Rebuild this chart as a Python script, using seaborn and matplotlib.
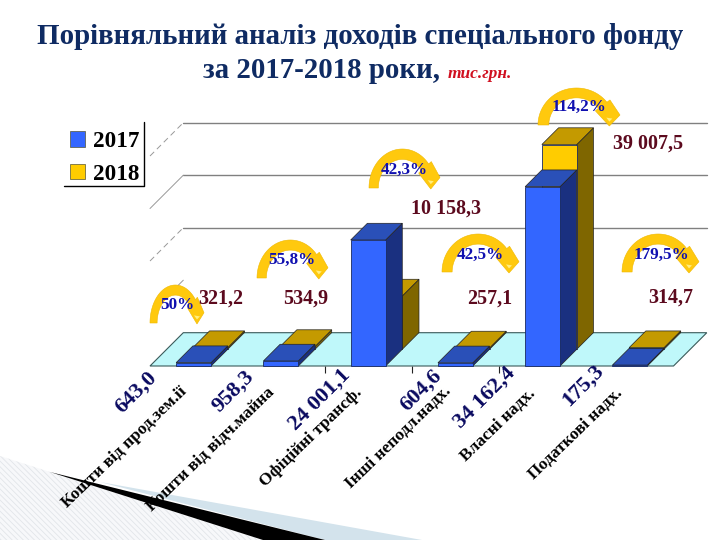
import numpy as np
import pandas as pd
import matplotlib
matplotlib.use('Agg')
import matplotlib.pyplot as plt
from matplotlib.patches import Patch, Polygon
import seaborn as sns

categories = ['Кошти від прод.зем.ії', 'Кошти від відч.майна', 'Офіційні трансф.',
              'Інші неподл.надх.', 'Власні надх.', 'Податкові надх.']
values_2017 = [643.0, 958.3, 24001.1, 604.6, 34162.4, 175.3]
values_2018 = [321.2, 534.9, 10158.3, 257.1, 39007.5, 314.7]
labels_2017 = ['643,0', '958,3', '24 001,1', '604,6', '34 162,4', '175,3']
labels_2018 = ['321,2', '534,9', '10 158,3', '257,1', '39 007,5', '314,7']
growth = ['50%', '55,8%', '42,3%', '42,5%', '114,2%', '179,5%']
grid_values = [20000, 30000, 40000]

SERIF = 'Liberation Serif'
FRONT = {'2017': '#3366FF', '2018': '#FFCC00'}
TOP = {'2017': '#2A50B8', '2018': '#C49A00'}
SIDE = {'2017': '#1A3080', '2018': '#7F6600'}

sns.set_theme(style='white')
plt.rcParams['font.family'] = [SERIF, 'DejaVu Serif']
plt.rcParams['hatch.linewidth'] = 0.6

fig = plt.figure(figsize=(7.2, 5.4), dpi=100)
fig.patch.set_facecolor('white')

# chart axes: front plane of the 3d box
ax = fig.add_axes([150 / 720, (540 - 366) / 540, 523.5 / 720, 210 / 540])
ax.patch.set_visible(False)

df = pd.DataFrame({
    'category': categories * 2,
    'value': values_2017 + values_2018,
    'year': ['2017'] * 6 + ['2018'] * 6,
})
sns.barplot(data=df, x='category', y='value', hue='year', palette=FRONT, dodge=False,
            width=0.4, saturation=1, legend=False, edgecolor='#1a2a60', linewidth=0.6, ax=ax)
ax.set_xlim(-0.5, 5.5)
ax.set_ylim(0, 40000)
ax.set_xlabel('')
ax.set_ylabel('')
ax.set_yticks([])
ax.set_xticks([])
ax.set_xticks([1.5, 2.5, 3.5], minor=True)
ax.tick_params(axis='x', which='minor', bottom=True, length=5, width=0.8, color='#222222')
sns.despine(ax=ax, left=True, bottom=True)

# depth of the box in data units (33 px to the back, 16.7 px per bar)
px_x = 6 / 523.5
px_y = 40000 / 210
box_dx, box_dy = 33.3 * px_x, 33.3 * px_y
bar_dx, bar_dy = 16.7 * px_x, 16.7 * px_y

floor = [(-0.5, 0), (5.5, 0), (5.5 + box_dx, box_dy), (-0.5 + box_dx, box_dy)]
ax.add_patch(Polygon(floor, closed=True, facecolor='#BFF8FA', edgecolor='#3a5a5a',
                     linewidth=0.8, zorder=1, clip_on=False))
for v in grid_values:
    ax.plot([-0.5 + box_dx, 5.5 + box_dx], [v + box_dy, v + box_dy], color='#808080',
            linewidth=1, zorder=1, clip_on=False)
    ax.plot([-0.5, -0.5 + box_dx], [v, v + box_dy], color='#999999', linewidth=0.7,
            linestyle='-' if v == 30000 else (0, (6, 4)), zorder=1, clip_on=False)
ax.plot([-0.5 + 0.7 * box_dx, -0.5 + box_dx], [10000 + 0.7 * box_dy, 10000 + box_dy],
        color='#999999', linewidth=0.7, zorder=1, clip_on=False)


def draw_depth(bar, year, z):
    x0, w = bar.get_x(), bar.get_width()
    y0, h = bar.get_y(), bar.get_height()
    x1, y1 = x0 + w, y0 + h
    side = [(x1, y0), (x1 + bar_dx, y0 + bar_dy), (x1 + bar_dx, y1 + bar_dy), (x1, y1)]
    top = [(x0, y1), (x1, y1), (x1 + bar_dx, y1 + bar_dy), (x0 + bar_dx, y1 + bar_dy)]
    ax.add_patch(Polygon(side, closed=True, facecolor=SIDE[year], edgecolor='#222222',
                         linewidth=0.5, zorder=z, clip_on=False))
    ax.add_patch(Polygon(top, closed=True, facecolor=TOP[year], edgecolor='#222222',
                         linewidth=0.5, zorder=z, clip_on=False))
    bar.set_zorder(z + 0.1)
    bar.set_clip_on(False)


# first container is 2017 in front, second is 2018 pushed half a depth back
for bar in ax.containers[0]:
    draw_depth(bar, '2017', 3)
for bar in ax.containers[1]:
    bar.set_x(bar.get_x() + bar_dx)
    bar.set_y(bar.get_y() + bar_dy)
    draw_depth(bar, '2018', 2)

# overlay in pixel coordinates for the slide furniture
over = fig.add_axes([0, 0, 1, 1], zorder=5)
over.set_xlim(0, 720)
over.set_ylim(540, 0)
over.axis('off')

# corner decoration
over.add_patch(Polygon([(0, 456), (50, 472), (263, 540), (0, 540)], closed=True, facecolor='#F7F8FA',
                       edgecolor='#E2E5E9', hatch='\\\\\\\\\\\\', linewidth=0))
over.add_patch(Polygon([(100, 482), (422, 540), (325, 540)], closed=True, facecolor='#D3E3EC', linewidth=0))
over.add_patch(Polygon([(50, 472), (325, 540), (263, 540)], closed=True, facecolor='black', linewidth=0))

title_color = '#0F2B63'
over.text(360, 44, 'Порівняльний аналіз доходів спеціального фонду', ha='center', va='baseline',
          fontsize=20.8, fontweight='bold', color=title_color)
over.text(203, 78, 'за 2017-2018 роки,', ha='left', va='baseline', fontsize=20.8,
          fontweight='bold', color=title_color)
over.text(448, 78, 'тис.грн.', ha='left', va='baseline', fontsize=12.5, fontweight='bold',
          fontstyle='italic', color='#D01020')

# legend with only right and bottom rules
over.plot([144.3, 144.3, 64], [122, 186, 186], color='black', linewidth=1)
handles = [Patch(facecolor=FRONT[y], edgecolor='#555533', linewidth=0.5) for y in FRONT]
over.legend(handles, list(FRONT), loc='upper left', bbox_to_anchor=(70 / 720, 1 - 131 / 540),
            frameon=False, prop={'family': SERIF, 'weight': 'bold', 'size': 16.7},
            labelcolor='black', handlelength=0.65, handleheight=0.65, handletextpad=0.36,
            labelspacing=0.5, borderpad=0, borderaxespad=0)

# rotated labels under the floor
x_2017 = [136, 233, 320, 421, 485, 583]
y_2017 = [392, 391, 400, 390, 398, 385]
x_cat = [124, 211, 311, 398, 498, 576]
y_cat = [447, 450, 437, 437, 425, 434]
for i in range(6):
    over.text(x_2017[i], y_2017[i], labels_2017[i], rotation=45, ha='center', va='center',
              rotation_mode='anchor', fontsize=16, fontweight='bold', color='#0A0A60')
    over.text(x_cat[i], y_cat[i], categories[i], rotation=44, ha='center', va='center',
              rotation_mode='anchor', fontsize=12.5, fontweight='bold', color='black')

# values for 2018
x_2018 = [221, 306, 446, 490, 648, 671]
y_2018 = [299, 299, 209, 299, 144, 298]
for x, y, s in zip(x_2018, y_2018, labels_2018):
    over.text(x, y, s, ha='center', va='center', fontsize=14.4, fontweight='bold', color='#5C0A1E')


def curved_arrow(left, right, top, bottom):
    # yellow arc going clockwise from the left foot, arrow head at the right
    cx = left + (right - left) * 0.47
    a = cx - left
    b = bottom - top
    band = 0.28
    t = np.radians(np.linspace(180, 38, 50))
    outer = np.c_[cx + a * np.cos(t), bottom - b * np.sin(t)]
    inner = np.c_[cx + a * (1 - band) * np.cos(t), bottom - b * (1 - band * 0.95) * np.sin(t)]
    end = t[-1]
    wing_out = (cx + a * 1.1 * np.cos(end), bottom - b * 1.1 * np.sin(end))
    wing_in = (cx + a * 0.62 * np.cos(end), bottom - b * 0.62 * np.sin(end))
    tip = (right - (right - left) * 0.13, bottom + 1)
    pts = list(map(tuple, outer)) + [wing_out, (right, bottom - b * 0.27), tip, wing_in] + list(map(tuple, inner[::-1]))
    over.add_patch(Polygon(pts, closed=True, facecolor='#FFC90E', edgecolor='#EFB800', linewidth=0.4))
    mid = (right - (right - left) * 0.13, bottom - b * 0.2)
    over.add_patch(Polygon([(mid[0] - 3, mid[1]), (mid[0] + 3, mid[1] + 1), (mid[0], mid[1] + 4)], closed=True,
                           facecolor='#FFEE80', linewidth=0))


arrow_left = [150, 257, 369, 442, 538, 622]
arrow_right = [204, 328, 440, 519, 620, 699]
arrow_top = [285, 240, 149, 234, 88, 234]
arrow_bottom = [323, 278, 188, 272, 125, 272]
text_x = [177, 292, 404, 480, 579, 661]
text_y = [305, 260, 170, 255, 107, 255]
for i in range(6):
    curved_arrow(arrow_left[i], arrow_right[i], arrow_top[i], arrow_bottom[i])
    over.text(text_x[i], text_y[i], growth[i], ha='center', va='center', fontsize=12.3,
              fontweight='bold', color='#1010B0')

fig.savefig('out.png', dpi=100)
plt.close(fig)
